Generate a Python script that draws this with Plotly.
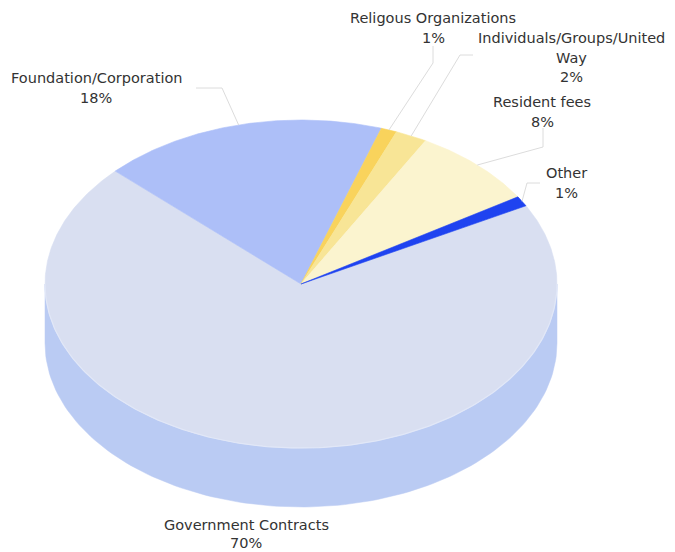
import numpy as np
import plotly.graph_objects as go

# ---- data ----
categories = ["Government Contracts", "Foundation/Corporation", "Religous Organizations",
              "Individuals/Groups/United<br>Way", "Resident fees", "Other"]
shares = [70, 18, 1, 2, 8, 1]
pct_labels = ["70%", "18%", "1%", "2%", "8%", "1%"]

# ---- styles / geometry (layout, not data) ----
top_colors = ["#d9dff1", "#adbff8", "#f9d35c", "#f8e596", "#fbf4cf", "#1f43f0"]
side_colors = ["#bacbf3", "#9fb2ef", "#eec24a", "#ecd682", "#efe6bd", "#1b3bd8"]
cx, cy, rx, ry, depth = 301, 284, 256, 164, 59
start_deg = 28.5 + 360  # parametric angle where the first slice begins (going clockwise)

# label anchor positions (x centre, y centre of first line), line step
label_pos = [(246, 525), (96, 78), (433, 18), (571, 38), (542, 102), (566, 173)]
line_step = [18, 20, 20, 19.5, 20, 20]
leader_start = [None, [(196, 88), (222, 88)], [(433, 46), (433, 63)],
                [(473, 55), (460, 55)], [(543, 128), (543, 147)], [(540, 183), (527, 183)]]

# page offset (browser body margin) compensation
OFF = 8
W, H = 675, 552

fig = go.Figure()

total = sum(shares)
bounds = []
a = start_deg
for s in shares:
    b = a - 360.0 * s / total
    bounds.append((a, b))
    a = b


def pt(t_deg, dy=0.0):
    t = np.radians(t_deg)
    return cx + rx * np.cos(t), cy - ry * np.sin(t) + dy


# side walls (only front half, 180..360 degrees, visible)
for i, (a, b) in enumerate(bounds):
    hi, lo = a, b
    for k in (0, 1):
        lo_k, hi_k = 180 + 360 * k, 360 + 360 * k
        s_lo, s_hi = max(lo, lo_k), min(hi, hi_k)
        if s_hi > s_lo:
            ts = np.linspace(s_lo, s_hi, 120)
            xt, yt = pt(ts)
            xb, yb = pt(ts[::-1], depth)
            fig.add_trace(go.Scatter(
                x=np.concatenate([xt, xb, xt[:1]]), y=np.concatenate([yt, yb, yt[:1]]),
                fill="toself", fillcolor=side_colors[i], mode="lines",
                line=dict(color=side_colors[i], width=0.5), hoverinfo="skip", showlegend=False))

# top faces
for i, (a, b) in enumerate(bounds):
    ts = np.linspace(a, b, max(8, int(abs(a - b) * 2)))
    xs, ys = pt(ts)
    fig.add_trace(go.Scatter(
        x=np.concatenate([[cx], xs, [cx]]), y=np.concatenate([[cy], ys, [cy]]),
        fill="toself", fillcolor=top_colors[i], mode="lines",
        line=dict(color=top_colors[i], width=0.6), hoverinfo="skip", showlegend=False))

# subtle rim between top face and side
ts = np.linspace(180, 360, 200)
xr, yr = pt(ts)
fig.add_trace(go.Scatter(x=xr, y=yr, mode="lines", line=dict(color="#e1e7f7", width=1.2),
                         hoverinfo="skip", showlegend=False))

# leader lines and labels
for i, (a, b) in enumerate(bounds):
    mid = (a + b) / 2
    mx, my = pt(mid)
    if leader_start[i] is not None:
        pts = leader_start[i] + [(mx, my)]
        fig.add_trace(go.Scatter(x=[p[0] for p in pts], y=[p[1] for p in pts], mode="lines",
                                 line=dict(color="#dcdcdc", width=1), hoverinfo="skip",
                                 showlegend=False))
    lx, ly = label_pos[i]
    lines = categories[i].split("<br>") + [pct_labels[i]]
    for j, txt in enumerate(lines):
        fig.add_annotation(x=lx, y=ly + j * line_step[i], text=txt,
                           showarrow=False, xanchor="center", yanchor="middle",
                           font=dict(family="DejaVu Sans", size=14.5, color="#333333"))

fig.update_layout(
    width=W - OFF, height=H - OFF, margin=dict(l=0, r=0, t=0, b=0),
    paper_bgcolor="white", plot_bgcolor="white",
    xaxis=dict(range=[OFF, W], visible=False, fixedrange=True),
    yaxis=dict(range=[H, OFF], visible=False, fixedrange=True),
)

fig.write_html("out.html")
